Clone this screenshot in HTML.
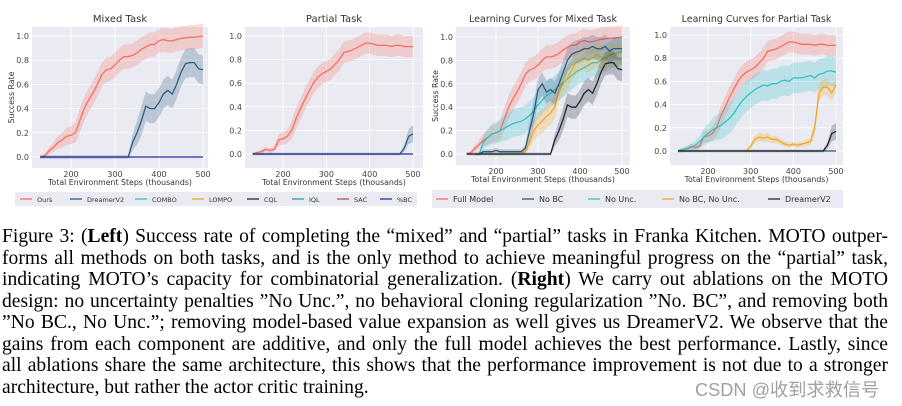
<!DOCTYPE html>
<html><head><meta charset="utf-8"><style>
body{margin:0;width:902px;height:406px;background:#fff;overflow:hidden;position:relative}
svg{position:absolute;left:0;top:0}
.cap{position:absolute;left:2px;width:886px;font-family:"Liberation Serif",serif;font-size:19.6px;color:#000;line-height:21.5px;top:226px}
.cap div{text-align:justify;text-align-last:justify;white-space:nowrap;overflow:visible}
.cap div.last{text-align-last:left}
.wm{position:absolute;left:695px;top:376px;font-family:"Liberation Sans","Noto Sans CJK SC",sans-serif;font-size:18.2px;color:#a0a0a0}
</style></head><body>
<svg id="fig" width="902" height="210" font-family="DejaVu Sans, Liberation Sans, sans-serif"></svg>
<div class="cap">
<div>Figure 3: (<b>Left</b>) Success rate of completing the “mixed” and “partial” tasks in Franka Kitchen. MOTO outper-</div>
<div>forms all methods on both tasks, and is the only method to achieve meaningful progress on the “partial” task,</div>
<div>indicating MOTO’s capacity for combinatorial generalization. (<b>Right</b>) We carry out ablations on the MOTO</div>
<div>design: no uncertainty penalties ”No Unc.”, no behavioral cloning regularization ”No. BC”, and removing both</div>
<div>”No BC., No Unc.”; removing model-based value expansion as well gives us DreamerV2. We observe that the</div>
<div>gains from each component are additive, and only the full model achieves the best performance. Lastly, since</div>
<div>all ablations share the same architecture, this shows that the performance improvement is not due to a stronger</div>
<div class="last">architecture, but rather the actor critic training.</div>
</div>
<div class="wm">CSDN @收到求救信号</div>
<script>
const steps=[130,140,150,160,170,180,190,200,210,220,230,240,250,260,270,280,290,300,310,320,330,340,350,360,370,380,390,400,410,420,430,440,450,460,470,480,490,500];
const yTicks=[0,0.2,0.4,0.6,0.8,1.0];
const xTicks=[200,300,400,500];
const oursMixed=[0,0.01,0.05,0.08,0.12,0.14,0.17,0.18,0.2,0.3,0.4,0.47,0.53,0.6,0.68,0.72,0.73,0.76,0.8,0.83,0.83,0.84,0.86,0.89,0.91,0.93,0.93,0.96,0.97,0.96,0.96,0.97,0.98,0.985,0.99,0.99,0.995,1.0];
const dreamerMixed=[0,0,0,0,0,0,0,0,0,0,0,0,0,0,0,0,0,0,0,0,0,0.12,0.2,0.3,0.42,0.4,0.4,0.45,0.52,0.55,0.52,0.6,0.7,0.77,0.78,0.78,0.73,0.72];
const oursPartial=[0,0.01,0.02,0.04,0.03,0.04,0.12,0.13,0.15,0.2,0.3,0.38,0.46,0.53,0.6,0.65,0.68,0.7,0.72,0.76,0.8,0.86,0.87,0.88,0.9,0.92,0.94,0.94,0.93,0.92,0.92,0.92,0.91,0.92,0.92,0.91,0.91,0.91];
const dreamerPartial=[0,0,0,0,0,0,0,0,0,0,0,0,0,0,0,0,0,0,0,0,0,0,0,0,0,0,0,0,0,0,0,0,0,0,0,0.05,0.15,0.17];
const zeros=[0,0,0,0,0,0,0,0,0,0,0,0,0,0,0,0,0,0,0,0,0,0,0,0,0,0,0,0,0,0,0,0,0,0,0,0,0,0];
const noBCMixed=[null,null,0,0,0.02,0.02,0.02,0.03,0.02,0.02,0.02,0.02,0.02,0.02,0.05,0.2,0.35,0.55,0.6,0.53,0.55,0.52,0.6,0.7,0.8,0.85,0.87,0.88,0.9,0.9,0.92,0.9,0.9,0.92,0.88,0.9,0.9,0.9];
const noUncMixed=[null,null,null,0,0.1,0.14,0.17,0.18,0.2,0.22,0.24,0.26,0.27,0.28,0.3,0.33,0.37,0.42,0.46,0.5,0.52,0.55,0.58,0.61,0.64,0.67,0.7,0.72,0.74,0.76,0.78,0.78,0.8,0.82,0.84,0.86,0.87,0.88];
const noBCnoUncMixed=[null,null,null,null,null,0,0,0,0,0,0,0,0,0,0.02,0.1,0.2,0.25,0.28,0.32,0.35,0.4,0.55,0.6,0.65,0.72,0.78,0.8,0.82,0.8,0.82,0.85,0.83,0.8,0.85,0.83,0.86,0.87];
const noUncPartial=[0,0.01,0.02,0.03,0.05,0.08,0.12,0.15,0.18,0.2,0.22,0.25,0.28,0.32,0.38,0.43,0.47,0.5,0.53,0.55,0.57,0.56,0.58,0.58,0.6,0.61,0.6,0.63,0.63,0.63,0.64,0.65,0.63,0.66,0.67,0.69,0.69,0.68];
const noBCnoUncPartial=[null,null,null,null,null,null,null,null,null,null,null,null,null,null,null,null,0,0.04,0.1,0.12,0.11,0.12,0.1,0.1,0.08,0.06,0.05,0.06,0.05,0.06,0.07,0.08,0.2,0.5,0.55,0.55,0.5,0.57];
const legend1=["Ours","DreamerV2","COMBO","LOMPO","CQL","IQL","SAC","%BC"];
const legend2=["Full Model","No BC","No Unc.","No BC, No Unc.","DreamerV2"];

const NS="http://www.w3.org/2000/svg";
const svg=document.getElementById('fig');
function mk(tag,attrs,parent){const e=document.createElementNS(NS,tag);for(const k in attrs)e.setAttribute(k,attrs[k]);(parent||svg).appendChild(e);return e;}
const C={red:"#fa6e5e",steel:"#2f5d80",cyan:"#2ec4c6",orange:"#f5a623",black:"#1f2833",teal:"#2a9d9a",sac:"#c0504d",navy:"#2b2fa0"};

function chart(cfg){
  const g=mk('g',{});
  
  
  const bg=mk('rect',{x:cfg.l,y:cfg.t,width:cfg.r-cfg.l,height:cfg.b-cfg.t,fill:"#eaeaf2"},g);
  
  
  const X=v=>cfg.x200+(v-200)*(cfg.x500-cfg.x200)/300;
  const Y=v=>cfg.y0+(cfg.y1-cfg.y0)*v;
  yTicks.forEach(v=>{
    mk('line',{x1:cfg.l,x2:cfg.r,y1:Y(v),y2:Y(v),stroke:"#fff","stroke-width":0.8},g);
    const t=mk('text',{x:cfg.l-3,y:Y(v)+3,"font-size":8,fill:"#444","text-anchor":"end"},g);
    t.textContent=v.toFixed(1);
    
    
  });
  xTicks.forEach(v=>{
    mk('line',{x1:X(v),x2:X(v),y1:cfg.t,y2:cfg.b,stroke:"#fff","stroke-width":0.8},g);
    const t=mk('text',{x:X(v),y:cfg.b+9,"font-size":8,fill:"#444","text-anchor":"middle"},g);
    t.textContent=v;
    
    
  });
  const tt=mk('text',{x:(cfg.l+cfg.r)/2,y:cfg.t-5,"font-size":cfg.tfs||10,fill:"#333","text-anchor":"middle"},g);
  tt.textContent=cfg.title;
  
  
  const xl=mk('text',{x:(cfg.l+cfg.r)/2,y:cfg.b+17,"font-size":7.8,fill:"#333","text-anchor":"middle"},g);
  xl.textContent="Total Environment Steps (thousands)";
  
  
  if(cfg.ylab){
    const yl=mk('text',{x:0,y:0,"font-size":7.8,fill:"#333","text-anchor":"middle",transform:`translate(${cfg.l-18},${(cfg.t+cfg.b)/2}) rotate(-90)`},g);
    yl.textContent="Success Rate";
    
    
  }
  cfg.series.forEach(s=>{
    const pts=[];
    s.data.forEach((v,i)=>{if(v!==null)pts.push([steps[i],v]);});
    if(s.band){
      const w=p=>s.band*(0.12+0.88*Math.min(1,p[1]*4));
      const up=pts.map(p=>X(p[0]).toFixed(1)+","+Y(p[1]+w(p)).toFixed(1));
      const dn=pts.slice().reverse().map(p=>X(p[0]).toFixed(1)+","+Y(p[1]-w(p)).toFixed(1));
      const band=mk('polygon',{points:up.concat(dn).join(" "),fill:s.color,"fill-opacity":0.25},g);
      
      
    }
    const line=mk('polyline',{points:pts.map(p=>X(p[0]).toFixed(1)+","+Y(p[1]).toFixed(1)).join(" "),fill:"none",stroke:s.color,"stroke-width":1.3},g);
    
    
  });
}
function legend(x,y,w,h,labels,colors,xs,name){
  const g=mk('g',{});
  
  
  mk('rect',{x:x,y:y,width:w,height:h,fill:"#eaeaf2",rx:2},g);
  labels.forEach((lab,i)=>{
    mk('line',{x1:xs[i],x2:xs[i]+12,y1:y+h/2,y2:y+h/2,stroke:colors[i],"stroke-width":1.3},g);
    const t=mk('text',{x:xs[i]+17,y:y+h/2+3,"font-size":name==='legend-ablation'?8:6.5,fill:"#333"},g);
    t.textContent=lab;
    
    
  });
}
chart({name:'mixed-task-chart',title:'Mixed Task',l:32,r:208,t:27,b:168,x200:71,x500:203,y0:157,y1:36,ylab:true,series:[
  {name:'ours',data:oursMixed,color:C.red,band:0.1},
  {name:'dreamerv2',data:dreamerMixed,color:C.steel,band:0.12},
  {name:'bc',data:zeros,color:C.navy}]});
chart({name:'partial-task-chart',title:'Partial Task',l:245,r:423,t:27,b:168,x200:283,x500:413,y0:154,y1:36,series:[
  {name:'ours',data:oursPartial,color:C.red,band:0.09},
  {name:'dreamerv2',data:dreamerPartial,color:C.steel,band:0.1},
  {name:'bc',data:zeros,color:C.navy}]});
chart({name:'ablation-mixed-chart',title:'Learning Curves for Mixed Task',tfs:9.5,l:456,r:630,t:27,b:165,x200:496,x500:622,y0:154,y1:37,ylab:true,series:[
  {name:'full-model',data:oursMixed,color:C.red,band:0.1},
  {name:'no-unc',data:noUncMixed,color:C.cyan,band:0.12},
  {name:'no-bc-no-unc',data:noBCnoUncMixed,color:C.orange,band:0.1},
  {name:'no-bc',data:noBCMixed,color:C.steel,band:0.1},
  {name:'dreamerv2',data:dreamerMixed,color:C.black,band:0.1}]});
chart({name:'ablation-partial-chart',title:'Learning Curves for Partial Task',tfs:9.5,l:670,r:843,t:27,b:165,x200:708,x500:836,y0:151,y1:35,series:[
  {name:'full-model',data:oursPartial,color:C.red,band:0.09},
  {name:'no-unc',data:noUncPartial,color:C.cyan,band:0.13},
  {name:'no-bc-no-unc',data:noBCnoUncPartial,color:C.orange,band:0.07},
  {name:'no-bc',data:zeros,color:C.steel},
  {name:'dreamerv2',data:dreamerPartial,color:C.black,band:0.1}]});
legend(15,192,402,14,legend1,[C.red,C.steel,C.cyan,C.orange,C.black,C.teal,C.sac,C.navy],[20,70,135,192,247,292,337,380],'legend-baselines');
legend(432,190,411,18,legend2,[C.red,C.steel,C.cyan,C.orange,C.black],[436,522,588,662,768],'legend-ablation');
</script>
</body></html>
